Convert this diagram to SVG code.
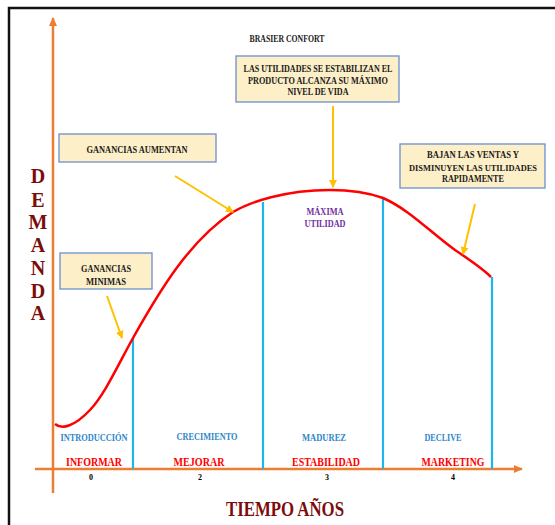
<svg xmlns="http://www.w3.org/2000/svg" width="555" height="525" viewBox="0 0 555 525">
<style>
.b{font-family:"Liberation Serif","Times New Roman",serif;font-weight:bold;text-anchor:middle}
.box{fill:#fdefc7;stroke:#6a8fd0;stroke-width:1.3}
.note{font-size:10px;fill:#1a1a1a}
.stage{font-size:10px;fill:#2e86c9}
.act{font-size:11.5px;fill:#ff0000}
.num{font-size:8px;fill:#000}
.dem{font-size:20px;fill:#7b0c0c}
.blue{stroke:#1fb4ec;stroke-width:2.2;fill:none}
.ya{stroke:#ffc000;stroke-width:2;fill:none;marker-end:url(#ah)}
</style>
<defs>
<marker id="ah" markerWidth="9" markerHeight="9" refX="7" refY="4.5" orient="auto" markerUnits="userSpaceOnUse"><path d="M0,0.5 L8,4.5 L0,8.5 Z" fill="#ffc000"/></marker>
<marker id="oa" markerWidth="10" markerHeight="10" refX="8" refY="5" orient="auto" markerUnits="userSpaceOnUse"><path d="M0,1 L9,5 L0,9 Z" fill="#ed7d31"/></marker>
</defs>
<rect width="555" height="525" fill="#fff"/>
<path d="M9,525 V8 H555" fill="none" stroke="#111" stroke-width="2.5"/>
<g id="axes">
<line x1="53" y1="493" x2="53" y2="18" stroke="#ed7d31" stroke-width="2.5" marker-end="url(#oa)"/>
<line x1="35" y1="469" x2="522" y2="469" stroke="#ed7d31" stroke-width="2.5" marker-end="url(#oa)"/>
</g>
<g id="connectors">
<line class="blue" x1="133" y1="338" x2="133" y2="469"/>
<line class="blue" x1="263" y1="202" x2="263" y2="469"/>
<line class="blue" x1="383" y1="198" x2="383" y2="469"/>
<line class="blue" x1="492" y1="277" x2="492" y2="469"/>
<path d="M55,424 C62,430 75,426 90,410 C105,394 118,365 133,338 C160,290 190,240 233,212 C250,202 285,190 330,190 C355,190 372,194 383,198 C410,210 430,232 455,250 C470,260 482,268 491,277" fill="none" stroke="#ff0000" stroke-width="2.5"/>
<line class="ya" x1="333" y1="106" x2="333" y2="187"/>
<line class="ya" x1="175" y1="176" x2="233" y2="212"/>
<line class="ya" x1="107" y1="296" x2="122" y2="338"/>
<line class="ya" x1="475" y1="204" x2="463" y2="254"/>
</g>
<text class="b" x="287" y="41.5" style="font-size:10px;fill:#1a1a1a" textLength="75" lengthAdjust="spacingAndGlyphs">BRASIER CONFORT</text>
<g id="n-top">
<rect class="box" x="236" y="56" width="163" height="46"/>
<text class="b note" x="318" y="71.5" textLength="149" lengthAdjust="spacingAndGlyphs">LAS UTILIDADES  SE ESTABILIZAN    EL</text>
<text class="b note" x="318" y="83.5" textLength="140" lengthAdjust="spacingAndGlyphs">PRODUCTO    ALCANZA   SU MÁXIMO</text>
<text class="b note" x="318" y="95" textLength="61" lengthAdjust="spacingAndGlyphs">NIVEL DE VIDA</text>
</g>
<g id="n-aumentan">
<rect class="box" x="59" y="134" width="157" height="28"/>
<text class="b note" x="137" y="152.5" textLength="101" lengthAdjust="spacingAndGlyphs">GANANCIAS  AUMENTAN</text>
</g>
<g id="n-minimas">
<rect class="box" x="60" y="253" width="92" height="36"/>
<text class="b note" x="106" y="271.5" textLength="50" lengthAdjust="spacingAndGlyphs">GANANCIAS</text>
<text class="b note" x="106" y="284.5" textLength="40" lengthAdjust="spacingAndGlyphs">MINIMAS</text>
</g>
<g id="n-bajan">
<rect class="box" x="400" y="144" width="145" height="44"/>
<text class="b note" x="473" y="157.5" textLength="92" lengthAdjust="spacingAndGlyphs">BAJAN LAS VENTAS  Y</text>
<text class="b note" x="473" y="170.5" style="font-size:8.5px" textLength="128" lengthAdjust="spacingAndGlyphs">DISMINUYEN LAS UTILIDADES</text>
<text class="b note" x="473" y="181.5" textLength="62" lengthAdjust="spacingAndGlyphs">RAPIDAMENTE</text>
</g>
<g id="n-maxima">
<text class="b" x="325" y="214.5" style="font-size:10px;fill:#7030a0" textLength="37" lengthAdjust="spacingAndGlyphs">MÁXIMA</text>
<text class="b" x="325" y="226.5" style="font-size:10px;fill:#7030a0" textLength="41" lengthAdjust="spacingAndGlyphs">UTILIDAD</text>
</g>
<g id="demanda">
<text class="b dem" x="38" y="183">D</text>
<text class="b dem" x="38" y="207">E</text>
<text class="b dem" x="38" y="229">M</text>
<text class="b dem" x="38" y="252">A</text>
<text class="b dem" x="38" y="275">N</text>
<text class="b dem" x="38" y="298">D</text>
<text class="b dem" x="38" y="320">A</text>
</g>
<g id="stages">
<text class="b stage" x="94" y="440.5" textLength="67" lengthAdjust="spacingAndGlyphs">INTRODUCCIÓN</text>
<text class="b stage" x="207" y="439.5" textLength="61" lengthAdjust="spacingAndGlyphs">CRECIMIENTO</text>
<text class="b stage" x="324" y="440.5" textLength="44" lengthAdjust="spacingAndGlyphs">MADUREZ</text>
<text class="b stage" x="443" y="440.5" textLength="37" lengthAdjust="spacingAndGlyphs">DECLIVE</text>
</g>
<g id="actions">
<text class="b act" x="94" y="466" textLength="56" lengthAdjust="spacingAndGlyphs">INFORMAR</text>
<text class="b act" x="199" y="466" textLength="51" lengthAdjust="spacingAndGlyphs">MEJORAR</text>
<text class="b act" x="326" y="466" textLength="68" lengthAdjust="spacingAndGlyphs">ESTABILIDAD</text>
<text class="b act" x="453" y="466" textLength="63" lengthAdjust="spacingAndGlyphs">MARKETING</text>
</g>
<g id="numbers">
<text class="b num" x="91" y="480">0</text>
<text class="b num" x="200" y="480">2</text>
<text class="b num" x="327" y="480">3</text>
<text class="b num" x="453" y="480">4</text>
</g>
<text class="b" x="285" y="516" style="font-size:20px;fill:#7b0c0c" textLength="118" lengthAdjust="spacingAndGlyphs">TIEMPO AÑOS</text>
</svg>
